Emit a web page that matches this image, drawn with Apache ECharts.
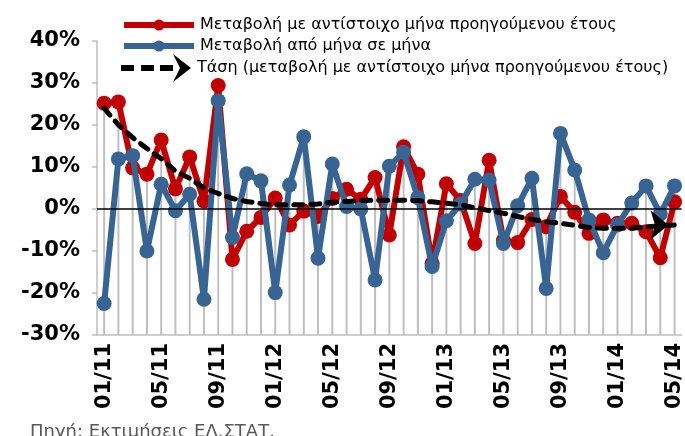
<!DOCTYPE html>
<html>
<head>
<meta charset="utf-8">
<script src="https://cdn.jsdelivr.net/npm/echarts@6/dist/echarts.min.js"></script>
<style>
  html, body { margin: 0; padding: 0; background: #fff; }
  #chart { width: 685px; height: 436px; }
</style>
</head>
<body>
<div id="chart"></div>
<script>
const months = [
  "01/11", "02/11", "03/11", "04/11", "05/11", "06/11", "07/11", "08/11", "09/11", "10/11", "11/11", "12/11",
  "01/12", "02/12", "03/12", "04/12", "05/12", "06/12", "07/12", "08/12", "09/12", "10/12", "11/12", "12/12",
  "01/13", "02/13", "03/13", "04/13", "05/13", "06/13", "07/13", "08/13", "09/13", "10/13", "11/13", "12/13",
  "01/14", "02/14", "03/14", "04/14", "05/14"
];

// change vs same month of previous year (%)
const yoyChange = [
  25.2, 25.5, 9.8, 8.3, 16.4, 4.8, 12.4, 1.9, 29.4, -12.0, -5.3, -2.0,
  2.6, -3.8, -0.5, -1.8, 2.5, 4.7, 2.3, 7.5, -6.2, 14.8, 8.3, -12.9,
  6.0, 2.0, -8.2, 11.6, -7.5, -8.0, -2.5, -4.2, 3.0, -0.8, -5.8, -2.6,
  -3.4, -3.4, -5.4, -11.6, 1.7
];

// month on month change (%)
const momChange = [
  -22.5, 11.9, 12.7, -10.0, 5.9, -0.4, 3.5, -21.5, 25.8, -6.8, 8.4, 6.7,
  -19.9, 5.7, 17.2, -11.7, 10.7, 0.6, 0.0, -16.9, 10.2, 13.5, 2.7, -13.7,
  -2.8, 1.2, 7.1, 6.9, -8.2, 0.8, 7.3, -18.9, 18.0, 9.3, -2.6, -10.4,
  -3.8, 1.4, 5.5, -1.2, 5.5
];

// trend of the yoy change
const trend = [
  24.0, 20.0, 17.0, 14.4, 12.0, 9.0, 7.3, 5.0, 3.7, 2.5, 1.8, 1.3,
  1.0, 1.0, 1.0, 1.2, 1.6, 1.8, 2.0, 2.1, 2.1, 2.1, 2.0, 1.7,
  1.4, 1.0, 0.3, -0.4, -1.0, -1.8, -2.5, -3.0, -3.4, -3.9, -4.4, -4.6,
  -4.6, -4.6, -4.3, -4.0, -3.8
];

const yMin = -30;
const yMax = 40;
const yStep = 10;

const names = [
  "Μεταβολή με αντίστοιχο μήνα προηγούμενου έτους",
  "Μεταβολή από μήνα σε μήνα",
  "Τάση (μεταβολή με αντίστοιχο μήνα προηγούμενου έτους)"
];
const source = "Πηγή: Εκτιμήσεις ΕΛ.ΣΤΑΤ.";

const RED = "#C00000";
const BLUE = "#386494";
const GREY = "#BFBFBF";

const chart = echarts.init(document.getElementById("chart"), null, { renderer: "canvas" });

// drop lines run from the higher of the two points down to the axis floor
const dropData = months.map((m, i) => [i, Math.max(yoyChange[i], momChange[i])]);

const trendData = trend.map((v, i) =>
  i === trend.length - 1
    ? { value: v, symbol: "arrow", symbolSize: [22, 18], symbolRotate: -90, symbolOffset: [-6, 0] }
    : v
);

const arrowIcon = "path://M0,11h13v6h-13z M20,11h13v6h-13z M39,11h13v6h-13z M52,0L70,14L52,28L59,14z";

const legendText = { color: "#000", fontSize: 16, fontFamily: "DejaVu Sans", padding: [0, 0, 0, 1] };

const option = {
  backgroundColor: "#fff",
  animation: false,
  textStyle: { fontFamily: "DejaVu Sans" },

  title: {
    text: source,
    left: 30,
    top: 423,
    padding: 0,
    textStyle: { color: "#595959", fontSize: 18, fontWeight: "normal", fontFamily: "DejaVu Sans" },
  },

  legend: [
    {
      data: [names[0], names[1]],
      orient: "vertical",
      left: 121,
      top: 17,
      padding: 0,
      itemWidth: 70,
      itemHeight: 14,
      itemGap: 5,
      lineStyle: { width: 6 },
      textStyle: legendText,
    },
    {
      data: [{ name: names[2], icon: arrowIcon }],
      left: 121,
      top: 54,
      padding: 0,
      itemWidth: 70,
      itemHeight: 28,
      symbolKeepAspect: false,
      itemStyle: { color: "#000" },
      textStyle: legendText,
    },
  ],

  grid: { left: 97, right: 1, top: 41, bottom: 101, containLabel: false },

  xAxis: {
    type: "category",
    data: months,
    boundaryGap: true,
    axisLine: { onZero: false, lineStyle: { color: GREY, width: 1.5 } },
    axisTick: { interval: 3, length: 6, lineStyle: { color: GREY, width: 1.5 } },
    axisLabel: {
      interval: 3,
      rotate: 90,
      margin: 8,
      color: "#000",
      fontSize: 21,
      fontWeight: "bold",
      fontFamily: "DejaVu Sans",
    },
    splitLine: { show: false },
  },

  yAxis: {
    type: "value",
    min: yMin,
    max: yMax,
    interval: yStep,
    axisLine: { show: true, lineStyle: { color: GREY, width: 1.5 } },
    axisTick: { show: true, length: 5, lineStyle: { color: GREY, width: 1.5 } },
    axisLabel: {
      formatter: "{value}%",
      margin: 17,
      color: "#000",
      fontSize: 21,
      fontWeight: "bold",
      fontFamily: "DejaVu Sans",
    },
    splitLine: { show: false },
  },

  series: [
    {
      name: "drop",
      type: "custom",
      data: dropData,
      silent: true,
      z: 1,
      renderItem: (params, api) => {
        const top = api.coord([api.value(0), api.value(1)]);
        const bot = api.coord([api.value(0), yMin]);
        return {
          type: "line",
          shape: { x1: top[0], y1: top[1], x2: bot[0], y2: bot[1] },
          style: { stroke: GREY, lineWidth: 2 },
        };
      },
      markLine: {
        silent: true,
        symbol: "none",
        label: { show: false },
        lineStyle: { color: "#000", width: 1.5, type: "solid" },
        data: [{ yAxis: 0 }],
      },
    },
    {
      name: names[0],
      type: "line",
      data: yoyChange,
      z: 2,
      symbol: "circle",
      symbolSize: 15,
      showSymbol: true,
      showAllSymbol: true,
      lineStyle: { color: RED, width: 6 },
      itemStyle: { color: RED },
    },
    {
      name: names[1],
      type: "line",
      data: momChange,
      z: 3,
      symbol: "circle",
      symbolSize: 15,
      showSymbol: true,
      showAllSymbol: true,
      lineStyle: { color: BLUE, width: 6 },
      itemStyle: { color: BLUE },
    },
    {
      name: names[2],
      type: "line",
      data: trendData,
      z: 4,
      symbol: "none",
      showAllSymbol: true,
      lineStyle: { color: "#000", width: 5, type: [9, 8], cap: "round" },
      itemStyle: { color: "#000" },
    },
  ],
};

chart.setOption(option);
window.addEventListener("resize", () => chart.resize());
</script>
</body>
</html>
